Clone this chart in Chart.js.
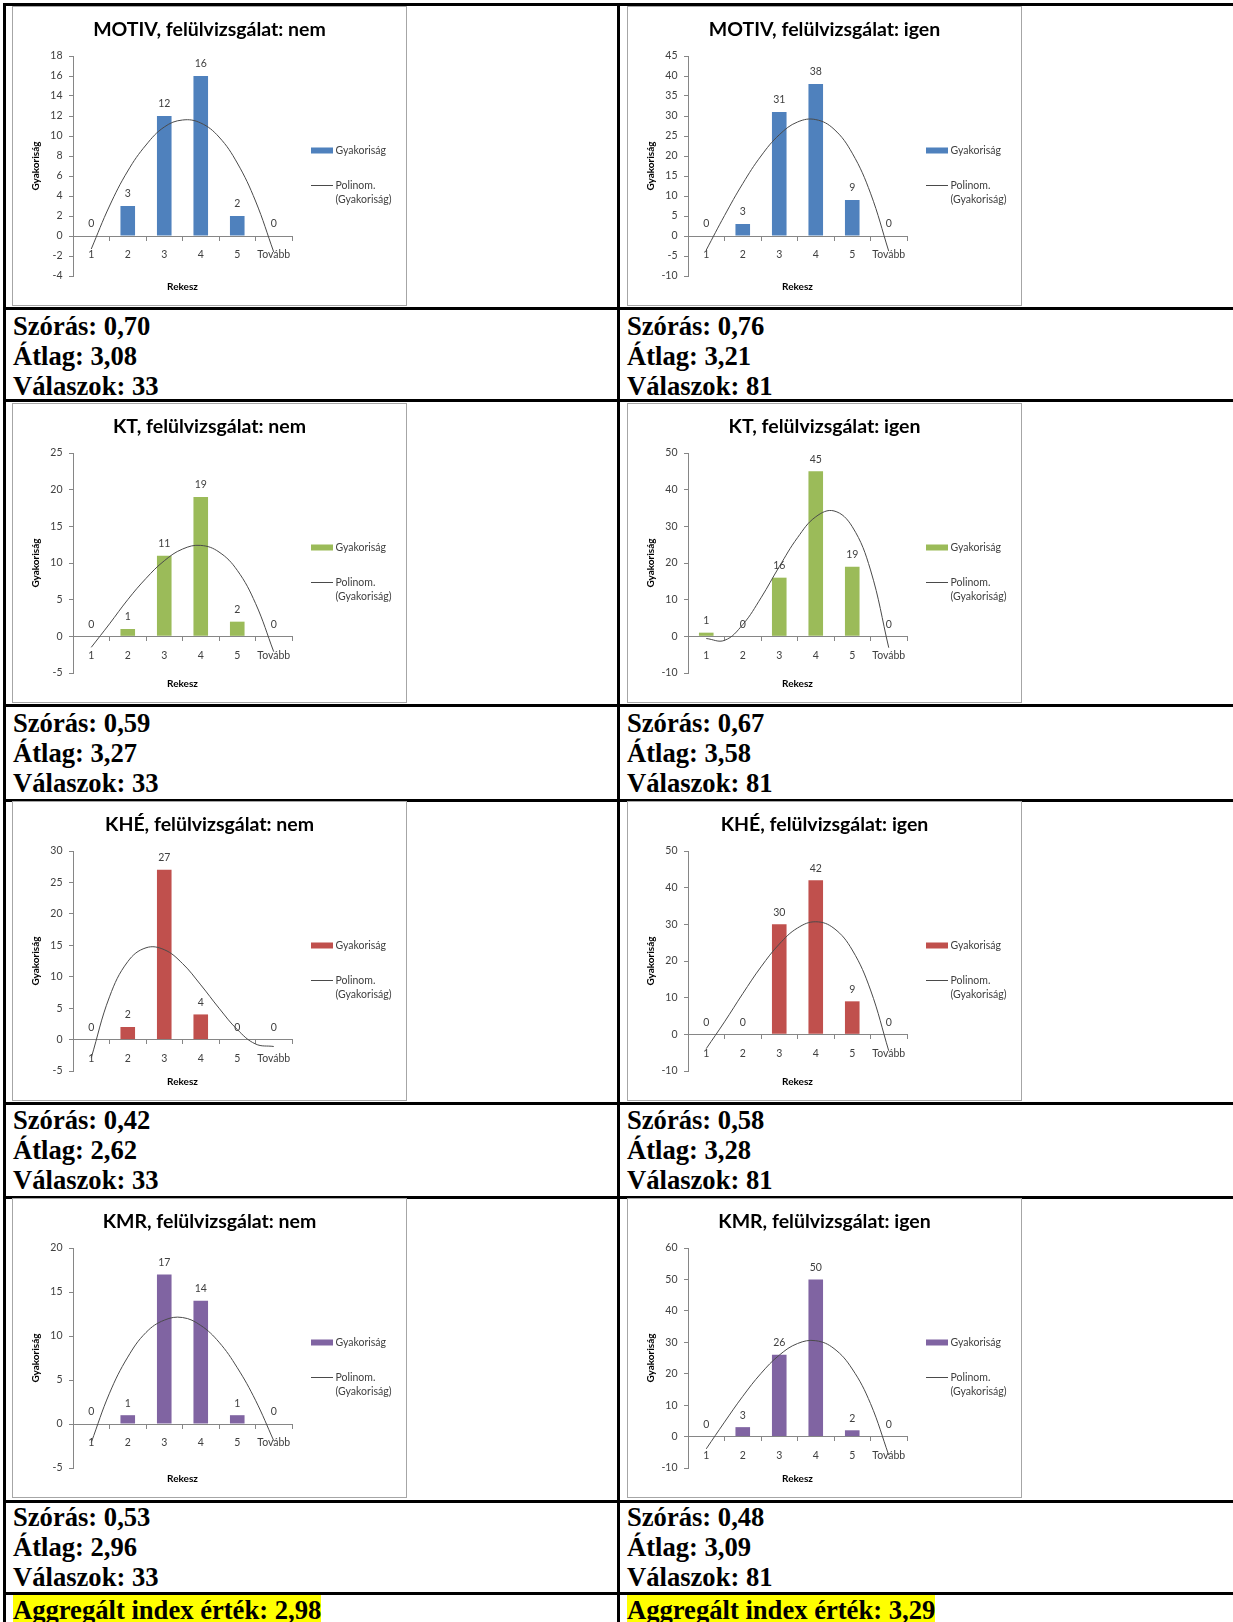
<!DOCTYPE html>
<html lang="hu">
<head>
<meta charset="utf-8">
<title>Gyakoriság – felülvizsgálat</title>
<script src="https://cdn.jsdelivr.net/npm/chart.js@4.4.0/dist/chart.umd.min.js"></script>
<style>
    html, body { margin: 0; padding: 0; background: #fff; }
    body { position: relative; width: 1233px; height: 1622px; overflow: hidden; }
    .hline { position: absolute; left: 3px; right: 0; height: 3px; background: #000; }
    .vline { position: absolute; top: 3px; bottom: 0; width: 3px; background: #000; }
    .chart-box { position: absolute; width: 395px; height: 300px; box-sizing: border-box; border: 1px solid #a6a6a6; background: #fff; }
    .chart-box canvas { position: absolute; left: -1px; top: -1px; }
    .stats { position: absolute; font-family: 'Liberation Serif', 'Times New Roman', serif; font-weight: bold; font-size: 26.6px; line-height: 30px; color: #000; white-space: nowrap; }
    .stats .mark { background: #ffff00; }
</style>
</head>
<body>

<!-- table grid -->
<div class="hline" style="top:2.5px"></div>
<div class="hline" style="top:306.5px"></div>
<div class="hline" style="top:398.5px"></div>
<div class="hline" style="top:703.5px"></div>
<div class="hline" style="top:798.5px"></div>
<div class="hline" style="top:1101.5px"></div>
<div class="hline" style="top:1195.5px"></div>
<div class="hline" style="top:1499.5px"></div>
<div class="hline" style="top:1591.5px"></div>
<div class="vline" style="left:3px"></div>
<div class="vline" style="left:617px"></div>

<!-- charts -->
<div class="chart-box" style="left:12px;top:6px"><canvas id="motivNem" width="395" height="300"></canvas></div>
<div class="chart-box" style="left:627px;top:6px"><canvas id="motivIgen" width="395" height="300"></canvas></div>
<div class="chart-box" style="left:12px;top:403px"><canvas id="ktNem" width="395" height="300"></canvas></div>
<div class="chart-box" style="left:627px;top:403px"><canvas id="ktIgen" width="395" height="300"></canvas></div>
<div class="chart-box" style="left:12px;top:801px"><canvas id="kheNem" width="395" height="300"></canvas></div>
<div class="chart-box" style="left:627px;top:801px"><canvas id="kheIgen" width="395" height="300"></canvas></div>
<div class="chart-box" style="left:12px;top:1198px"><canvas id="kmrNem" width="395" height="300"></canvas></div>
<div class="chart-box" style="left:627px;top:1198px"><canvas id="kmrIgen" width="395" height="300"></canvas></div>

<!-- statistics -->
<div class="stats" style="left:13px;top:311px">Szórás: 0,70<br>Átlag: 3,08<br>Válaszok: 33</div>
<div class="stats" style="left:627px;top:311px">Szórás: 0,76<br>Átlag: 3,21<br>Válaszok: 81</div>
<div class="stats" style="left:13px;top:708px">Szórás: 0,59<br>Átlag: 3,27<br>Válaszok: 33</div>
<div class="stats" style="left:627px;top:708px">Szórás: 0,67<br>Átlag: 3,58<br>Válaszok: 81</div>
<div class="stats" style="left:13px;top:1105px">Szórás: 0,42<br>Átlag: 2,62<br>Válaszok: 33</div>
<div class="stats" style="left:627px;top:1105px">Szórás: 0,58<br>Átlag: 3,28<br>Válaszok: 81</div>
<div class="stats" style="left:13px;top:1502px">Szórás: 0,53<br>Átlag: 2,96<br>Válaszok: 33</div>
<div class="stats" style="left:627px;top:1502px">Szórás: 0,48<br>Átlag: 3,09<br>Válaszok: 81</div>
<div class="stats" style="left:13px;top:1595px"><span class="mark">Aggregált index érték: 2,98</span></div>
<div class="stats" style="left:627px;top:1595px"><span class="mark">Aggregált index érték: 3,29</span></div>

<script>
const rekesz = ['1', '2', '3', '4', '5', 'Tovább'];
const trendBins = [1, 1.5, 2, 2.5, 3, 3.5, 4, 4.5, 5, 5.5, 6];

// Frequencies, trend curve readings, y axis [min, max, step]
const motivNem = [0, 3, 12, 16, 2, 0];
const motivNemTrend = [-1.3, 3.0, 6.5, 9.1, 10.9, 11.6, 11.3, 9.9, 7.3, 3.5, -1.6];
const motivNemAxis = [-4, 18, 2];

const motivIgen = [0, 3, 31, 38, 9, 0];
const motivIgenTrend = [-3.5, 5.1, 13.1, 20.0, 25.3, 28.5, 29.1, 26.7, 20.7, 10.7, -3.8];
const motivIgenAxis = [-10, 45, 5];

const ktNem = [0, 1, 11, 19, 2, 0];
const ktNemTrend = [-1.5, 1.7, 5.0, 7.9, 10.3, 11.9, 12.4, 11.5, 9.0, 4.5, -2.1];
const ktNemAxis = [-5, 25, 5];

const ktIgen = [1, 0, 16, 45, 19, 0];
const ktIgenTrend = [-0.6, -1.1, 3.2, 10.5, 19.0, 26.9, 32.6, 34.2, 29.9, 18.1, -3.1];
const ktIgenAxis = [-10, 50, 10];

const kheNem = [0, 2, 27, 4, 0, 0];
const kheNemTrend = [-2.9, 6.8, 12.4, 14.6, 14.3, 12.1, 8.7, 5.0, 1.6, -0.7, -1.1];
const kheNemAxis = [-5, 30, 5];

const kheIgen = [0, 0, 30, 42, 9, 0];
const kheIgenTrend = [-3.9, 3.4, 11.1, 18.4, 24.6, 29.0, 30.7, 28.9, 23.0, 12.1, -4.5];
const kheIgenAxis = [-10, 50, 10];

const kmrNem = [0, 1, 17, 14, 1, 0];
const kmrNemTrend = [-2.1, 3.5, 7.6, 10.4, 11.8, 12.1, 11.2, 9.3, 6.4, 2.7, -1.9];
const kmrNemAxis = [-5, 20, 5];

const kmrIgen = [0, 3, 26, 50, 2, 0];
const kmrIgenTrend = [-3.9, 4.6, 12.8, 20.1, 25.9, 29.6, 30.5, 28.0, 21.5, 10.5, -5.9];
const kmrIgenAxis = [-10, 60, 10];

const barColors = {
    blue: '#4f81bd',
    green: '#9bbb59',
    red: '#c0504d',
    purple: '#8064a2'
};
const axisGray = '#868686';
const textGray = '#404040';
const trendColor = '#4a4a4a';

Chart.defaults.font.family = "Lato, 'Open Sans', sans-serif";
Chart.defaults.color = textGray;

// numbers above the bars
const barValueLabels = {
    id: 'barValueLabels',
    afterDatasetsDraw(chart) {
        const ctx = chart.ctx;
        chart.data.datasets.forEach((ds, i) => {
            if (ds.type !== 'bar') return;
            const meta = chart.getDatasetMeta(i);
            ctx.save();
            ctx.font = '10.5px Lato';
            ctx.fillStyle = textGray;
            ctx.textAlign = 'center';
            ctx.textBaseline = 'middle';
            meta.data.forEach((bar, j) => {
                ctx.fillText(String(ds.data[j]), bar.x, bar.y - 12);
            });
            ctx.restore();
        });
    }
};

// Excel-like legend on the right side
const sideLegend = {
    id: 'sideLegend',
    afterDraw(chart) {
        const ctx = chart.ctx;
        const bars = chart.data.datasets.find(ds => ds.type === 'bar');
        const trend = chart.data.datasets.find(ds => ds.type === 'line');
        const x = chart.chartArea.right + 19;
        ctx.save();
        ctx.fillStyle = bars.backgroundColor;
        ctx.fillRect(x, 141.5, 22, 6);
        ctx.strokeStyle = trend.borderColor;
        ctx.lineWidth = 1;
        ctx.beginPath();
        ctx.moveTo(x, 179.5);
        ctx.lineTo(x + 22, 179.5);
        ctx.stroke();
        ctx.font = '10.5px Lato';
        ctx.fillStyle = textGray;
        ctx.textBaseline = 'middle';
        ctx.fillText(bars.label, x + 24.5, 144.5);
        const parts = trend.label.split(' ');
        ctx.fillText(parts[0], x + 24.5, 179.5);
        ctx.fillText(parts.slice(1).join(' '), x + 24.5, 193.5);
        ctx.restore();
    }
};

function createHistogram(cfg) {
    const ctx = document.getElementById(cfg.id);
    const [yMin, yMax, yStep] = cfg.axis;

    new Chart(ctx, {
        type: 'bar',
        data: {
            labels: rekesz,
            datasets: [{
                type: 'line',
                label: 'Polinom. (Gyakoriság)',
                data: trendBins.map((b, i) => ({ x: b, y: cfg.trend[i] })),
                xAxisID: 'xt',
                yAxisID: 'y',
                borderColor: trendColor,
                borderWidth: 1,
                pointRadius: 0,
                fill: false,
                tension: 0.4,
                order: 0
            }, {
                type: 'bar',
                label: 'Gyakoriság',
                data: cfg.values,
                xAxisID: 'x',
                yAxisID: 'y',
                backgroundColor: cfg.color,
                grouped: false,
                barPercentage: 0.4,
                categoryPercentage: 1,
                order: 1
            }]
        },
        options: {
            responsive: false,
            animation: false,
            events: [],
            layout: { padding: 0 },
            plugins: {
                legend: { display: false },
                tooltip: { enabled: false },
                title: {
                    display: true,
                    text: cfg.title,
                    color: '#000',
                    font: { size: 19.5, weight: 'bold' },
                    padding: { top: 12, bottom: 14.6 }
                }
            },
            scales: {
                x: {
                    type: 'category',
                    position: { y: 0 },
                    offset: true,
                    grid: { display: true, offset: true, drawOnChartArea: false, drawTicks: true, tickLength: 4, color: axisGray },
                    border: { display: true, color: axisGray },
                    ticks: { font: { size: 10.5 }, color: textGray, padding: 8.5, maxRotation: 0, autoSkip: false }
                },
                xt: {
                    type: 'linear',
                    display: false,
                    offset: false,
                    min: 0.5,
                    max: 6.5
                },
                xb: {
                    type: 'category',
                    position: 'bottom',
                    grid: { display: false, drawTicks: false },
                    border: { display: false },
                    ticks: { display: false },
                    title: {
                        display: true,
                        text: 'Rekesz',
                        color: '#000',
                        font: { size: 10, weight: 'bold' },
                        padding: { top: 0, bottom: 13 }
                    },
                    afterFit(scale) { scale.height = 30; }
                },
                y: {
                    type: 'linear',
                    position: 'left',
                    min: yMin,
                    max: yMax,
                    ticks: { stepSize: yStep, font: { size: 10.5 }, color: textGray, padding: 6.5 },
                    grid: { display: true, drawOnChartArea: false, drawTicks: true, tickLength: 4, color: axisGray },
                    border: { display: true, color: axisGray },
                    title: {
                        display: true,
                        text: 'Gyakoriság',
                        color: '#000',
                        font: { size: 10, weight: 'bold' },
                        padding: { top: 18, bottom: 0 }
                    },
                    afterFit(scale) { scale.width = 61; }
                },
                yr: {
                    type: 'linear',
                    position: 'right',
                    display: true,
                    grid: { display: false, drawTicks: false },
                    border: { display: false },
                    ticks: { display: false },
                    afterFit(scale) { scale.width = 115; }
                }
            }
        },
        plugins: [barValueLabels, sideLegend]
    });
}

document.addEventListener('DOMContentLoaded', function() {
    const charts = [
        { id: 'motivNem', title: 'MOTIV, felülvizsgálat: nem', values: motivNem, trend: motivNemTrend, axis: motivNemAxis, color: barColors.blue },
        { id: 'motivIgen', title: 'MOTIV, felülvizsgálat: igen', values: motivIgen, trend: motivIgenTrend, axis: motivIgenAxis, color: barColors.blue },
        { id: 'ktNem', title: 'KT, felülvizsgálat: nem', values: ktNem, trend: ktNemTrend, axis: ktNemAxis, color: barColors.green },
        { id: 'ktIgen', title: 'KT, felülvizsgálat: igen', values: ktIgen, trend: ktIgenTrend, axis: ktIgenAxis, color: barColors.green },
        { id: 'kheNem', title: 'KHÉ, felülvizsgálat: nem', values: kheNem, trend: kheNemTrend, axis: kheNemAxis, color: barColors.red },
        { id: 'kheIgen', title: 'KHÉ, felülvizsgálat: igen', values: kheIgen, trend: kheIgenTrend, axis: kheIgenAxis, color: barColors.red },
        { id: 'kmrNem', title: 'KMR, felülvizsgálat: nem', values: kmrNem, trend: kmrNemTrend, axis: kmrNemAxis, color: barColors.purple },
        { id: 'kmrIgen', title: 'KMR, felülvizsgálat: igen', values: kmrIgen, trend: kmrIgenTrend, axis: kmrIgenAxis, color: barColors.purple }
    ];

    charts.forEach(createHistogram);
});
</script>
</body>
</html>
